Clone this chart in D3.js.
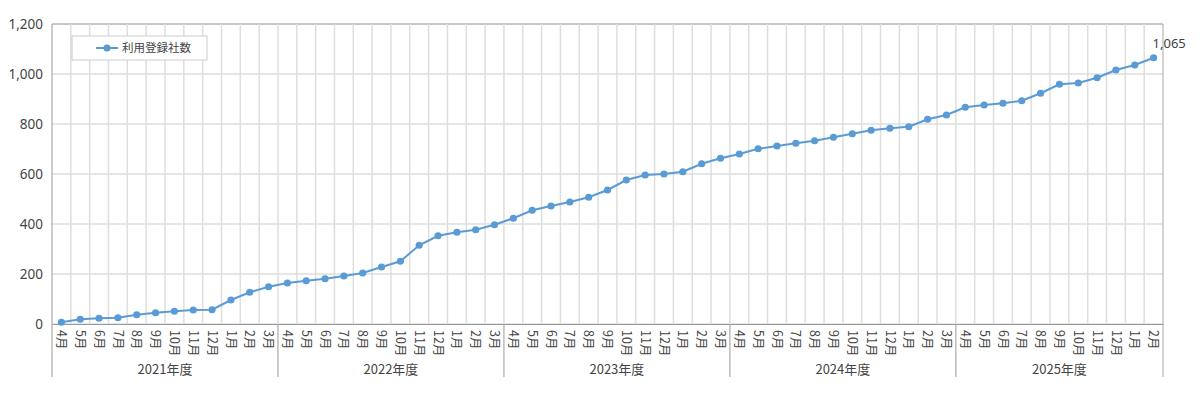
<!DOCTYPE html>
<html>
<head>
<meta charset="utf-8">
<script src="https://cdn.jsdelivr.net/npm/d3@7"></script>
<style>
  body { margin: 0; background: #fff; }
  text { font-family: "Noto Sans CJK JP", "Noto Sans", sans-serif; fill: #444; }
</style>
</head>
<body>
<div id="chart"></div>
<script>
// fiscal years and months (April start)
const fiscalYears = ['2021年度', '2022年度', '2023年度', '2024年度', '2025年度'];
const monthNames = ['4月', '5月', '6月', '7月', '8月', '9月', '10月', '11月', '12月', '1月', '2月', '3月'];
const monthsPerYear = [12, 12, 12, 12, 11];
const seriesName = '利用登録社数';
const registered = [
    7, 19, 23, 25, 37, 45, 51, 56, 57, 96, 127, 149,
    164, 173, 181, 192, 204, 228, 251, 315, 353, 367, 377, 397,
    423, 455, 472, 488, 507, 536, 576, 596, 600, 609, 641, 663,
    680, 701, 712, 723, 733, 747, 761, 775, 783, 789, 819, 836,
    867, 876, 883, 893, 923, 959, 964, 985, 1016, 1036, 1065
];
const yTicks = [0, 200, 400, 600, 800, 1000, 1200];

let categories = [];
fiscalYears.forEach((fy, i) => {
    for (let m = 0; m < monthsPerYear[i]; m++) {
        categories.push({ key: fy + '-' + m, fy: fy, month: monthNames[m] });
    }
});
let data = categories.map((c, i) => ({ key: c.key, month: c.month, value: registered[i] }));

let width = 1200;
let height = 397;
let margin = { top: 24, right: 37, bottom: 73, left: 52 };
let innerW = width - margin.left - margin.right;
let innerH = height - margin.top - margin.bottom;

let svg = d3.select('#chart').append('svg')
    .attr('width', width)
    .attr('height', height);

let chart = svg.append('g')
    .attr('transform', `translate(${margin.left}, ${margin.top})`);

let xScale = d3.scaleBand()
    .domain(categories.map(c => c.key))
    .range([0, innerW]);

let yScale = d3.scaleLinear()
    .domain([0, 1200])
    .range([innerH, 0]);

// horizontal grid
chart.append('g').selectAll('line').data(yTicks).enter().append('line')
    .attr('x1', 0).attr('x2', innerW)
    .attr('y1', d => yScale(d)).attr('y2', d => yScale(d))
    .attr('stroke', d => d === 1200 ? '#b5b5b5' : '#dedede')
    .attr('stroke-width', 1.5);

// vertical grid at band edges
chart.append('g').selectAll('line').data(categories.slice(1)).enter().append('line')
    .attr('x1', d => xScale(d.key)).attr('x2', d => xScale(d.key))
    .attr('y1', 0).attr('y2', innerH)
    .attr('stroke', '#dedede')
    .attr('stroke-width', 1.5);

// y axis
let yAxis = chart.append('g')
    .call(d3.axisLeft(yScale).tickValues(yTicks).tickSize(0).tickPadding(9).tickFormat(d3.format(',')));
yAxis.select('.domain').remove();
yAxis.selectAll('text')
    .attr('font-size', 13.5)
    .style('font-family', '"Noto Sans", sans-serif')
    .attr('fill', '#444');

// x axis: month labels
let xAxis = chart.append('g')
    .attr('transform', `translate(0, ${innerH})`)
    .call(d3.axisBottom(xScale).tickSize(0).tickFormat(k => categories.find(c => c.key === k).month));
xAxis.select('.domain').attr('stroke', '#999');
xAxis.selectAll('text')
    .attr('font-size', 12.5)
    .attr('fill', '#444')
    .attr('transform', 'rotate(90)')
    .attr('dy', '0.35em')
    .attr('x', 6)
    .attr('y', 0)
    .style('text-anchor', 'start');

// fiscal-year separators and labels
let yearStarts = [];
let idx = 0;
fiscalYears.forEach((fy, i) => {
    yearStarts.push({ fy: fy, start: categories[idx].key, end: categories[idx + monthsPerYear[i] - 1].key });
    idx += monthsPerYear[i];
});
let sepBottom = innerH + 53;
chart.append('g').selectAll('line').data(yearStarts).enter().append('line')
    .attr('x1', d => xScale(d.start)).attr('x2', d => xScale(d.start))
    .attr('y1', d => d.fy === fiscalYears[0] ? 0 : innerH)
    .attr('y2', sepBottom)
    .attr('stroke', '#aaa')
    .attr('stroke-width', 1.2);
chart.append('line')
    .attr('x1', innerW).attr('x2', innerW)
    .attr('y1', 0).attr('y2', sepBottom)
    .attr('stroke', '#b5b5b5')
    .attr('stroke-width', 1.2);
chart.append('g').selectAll('text').data(yearStarts).enter().append('text')
    .attr('x', d => (xScale(d.start) + xScale(d.end) + xScale.bandwidth()) / 2)
    .attr('y', innerH + 50)
    .attr('text-anchor', 'middle')
    .attr('font-size', 13)
    .text(d => d.fy);

// line and points
let cx = d => xScale(d.key) + xScale.bandwidth() / 2;
let lineColor = '#5b9bd5';
chart.append('path')
    .datum(data)
    .attr('fill', 'none')
    .attr('stroke', lineColor)
    .attr('stroke-width', 2)
    .attr('d', d3.line().x(cx).y(d => yScale(d.value)));
chart.append('g').selectAll('circle').data(data).enter().append('circle')
    .attr('cx', cx)
    .attr('cy', d => yScale(d.value))
    .attr('r', 3.6)
    .attr('fill', lineColor);

// last value label
let last = data[data.length - 1];
chart.append('text')
    .attr('x', cx(last) - 1)
    .attr('y', yScale(last.value) - 10)
    .attr('font-size', 13)
    .style('font-family', '"Noto Sans", sans-serif')
    .attr('fill', '#444')
    .text(d3.format(',')(last.value));

// legend
let legend = svg.append('g').attr('transform', 'translate(72, 36)');
legend.append('rect')
    .attr('width', 135).attr('height', 24)
    .attr('fill', '#fff')
    .attr('stroke', '#ccc');
legend.append('line')
    .attr('x1', 24).attr('x2', 46).attr('y1', 12).attr('y2', 12)
    .attr('stroke', lineColor).attr('stroke-width', 2);
legend.append('circle')
    .attr('cx', 35).attr('cy', 12).attr('r', 3.6).attr('fill', lineColor);
legend.append('text')
    .attr('x', 50).attr('y', 16)
    .attr('font-size', 11.5)
    .attr('fill', '#555')
    .text(seriesName);
</script>
</body>
</html>
